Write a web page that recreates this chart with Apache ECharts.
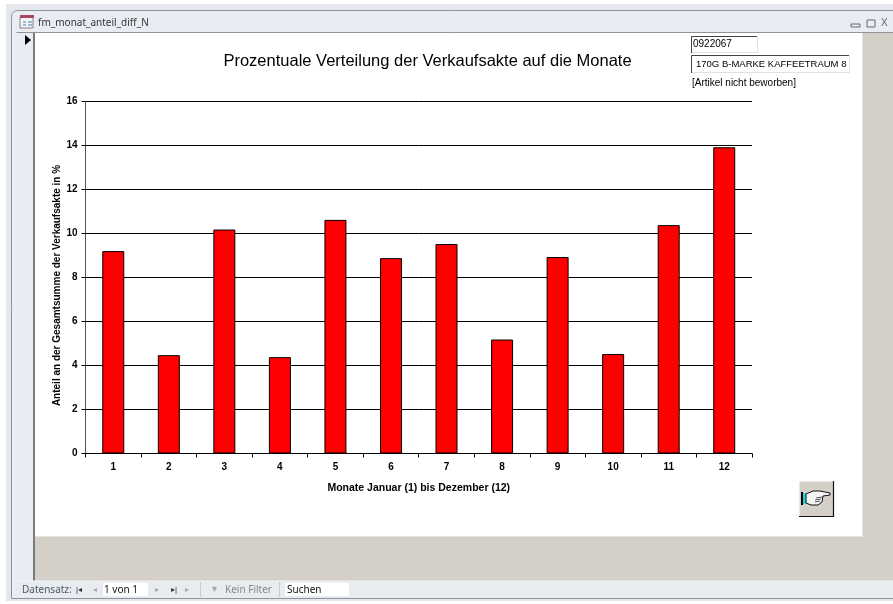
<!DOCTYPE html>
<html><head><meta charset="utf-8">
<style>html,body{margin:0;padding:0;background:#fff}#c{width:893px;height:604px}</style>
<script src="https://cdn.jsdelivr.net/npm/echarts@6/dist/echarts.min.js"></script>
</head><body><div id="c"></div>
<script>
const months = ['1','2','3','4','5','6','7','8','9','10','11','12'];
const shares = [9.2,4.47,10.18,4.38,10.62,8.88,9.52,5.18,8.93,4.52,10.38,13.92];
const chartTitle = 'Prozentuale Verteilung der Verkaufsakte auf die Monate';
const xName = 'Monate Januar (1) bis Dezember (12)';
const yName = 'Anteil an der Gesamtsumme der Verkaufsakte in %';
const winTitle = 'fm_monat_anteil_diff_N';
const code = '0922067', article = '170G B-MARKE KAFFEETRAUM 8', note = '[Artikel nicht beworben]';

const ui = '"Noto Sans","Open Sans",sans-serif', ar = '"Liberation Sans",Arial,sans-serif';
const R = (x,y,w,h,fill,z,extra) => Object.assign({type:'rect',silent:true,z:z||1,shape:{x,y,width:w,height:h},style:{fill}},extra||{});
const L = (x1,y1,x2,y2,stroke,lw,z) => ({type:'line',silent:true,z:z||3,shape:{x1,y1,x2,y2},style:{stroke,lineWidth:lw||1}});
const T = (x,y,text,font,fill,z) => ({type:'text',silent:true,z:z||5,x,y,style:{text,font,fill:fill||'#000',textVerticalAlign:'middle'}});

const chrome = [
  R(0,0,893,604,'#ffffff',-10), R(6,4,887,597,'#e4e7eb',-9),
  {type:'rect',silent:true,z:-8,shape:{x:11.5,y:10.5,width:900,height:588,r:[6,0,0,0]},style:{fill:'#e9edf3',stroke:'#8f9499',lineWidth:1}},
  L(16.5,32.5,893,32.5,'#8f9499',1,6),
  R(20,17,13,11,'#f4f4f6',6,{style:{fill:'#f4f4f6',stroke:'#8a7f8f',lineWidth:1}}),
  R(20,15,14,3,'#a8475f',6),
  L(23,22,26,22,'#4d7fb8',1,7), L(23,25,26,25,'#4d7fb8',1,7), L(28,22,32,22,'#4d7fb8',1,7), L(28,25,32,25,'#4d7fb8',1,7),
  T(38,23,winTitle,'10px '+ui,'#333',6),
  R(851,24,9,3,'#e9edf3',6,{style:{fill:'#e9edf3',stroke:'#667',lineWidth:1}}),
  R(867,20,8,7,'#e9edf3',6,{style:{fill:'#e9edf3',stroke:'#667',lineWidth:1}}),
  T(881,23,'X','10px '+ar,'#667',6),
  R(17,33,17,548,'#e9edf3',-7), L(34,33,34,581,'#555',1.5,3),
  {type:'polygon',silent:true,z:5,shape:{points:[[25,35],[31,40],[25,45]]},style:{fill:'#000'}},
  R(35,33,858,548,'#d4d0c8',-7),
  R(35,33,827,503,'#ffffff',-6),
  L(35,536.5,862.5,536.5,'#e8e5df',1,-5), L(862.5,33,862.5,537,'#e8e5df',1,-5),
  // toolbar
  R(17,581,876,17,'#e8ebf0',1), L(12,598.5,893,598.5,'#8f9499',1,3), L(17,581,893,581,'#f4f5f7',1,3),
  T(22,590,'Datensatz:','10px '+ui,'#4a5a6a',6),
  T(76,590,'|◂','8px '+ar,'#333',6), T(93,590,'◂','8px '+ar,'#aaa',6),
  R(103,583,45,13,'#ffffff',5), T(104,590,'1 von 1','10px '+ui,'#111',6),
  T(155,590,'▸','8px '+ar,'#aaa',6), T(171,590,'▸|','8px '+ar,'#333',6), T(185,590,'▸','8px '+ar,'#aaa',6),
  L(200.5,582,200.5,597,'#c8ccd2',1,6),
  T(210,590,'▼','9px '+ar,'#aaa',6), T(225,590,'Kein Filter','10px '+ui,'#888',6),
  L(279.5,582,279.5,597,'#c8ccd2',1,6),
  R(285,583,64,13,'#ffffff',5), T(287,590,'Suchen','10px '+ui,'#111',6),
  // text boxes
  {type:'rect',silent:true,z:5,shape:{x:691.5,y:36.5,width:66,height:16},style:{fill:'#fff',stroke:'#e3e1da',lineWidth:1}},
  L(691.5,36.5,757,36.5,'#444',1,6), L(691.5,36.5,691.5,53,'#444',1,6),
  T(693,44,code,'10px '+ar,'#000',6),
  {type:'rect',silent:true,z:5,shape:{x:691.5,y:55.5,width:158,height:17},style:{fill:'#fff',stroke:'#e3e1da',lineWidth:1}},
  L(691.5,55.5,849,55.5,'#444',1,6), L(691.5,55.5,691.5,73,'#444',1,6),
  T(696,64.5,article,'9.5px '+ar,'#000',6),
  T(692,83,note,'10px '+ar,'#000',6),
  // button
  {type:'rect',silent:true,z:5,shape:{x:799.5,y:481.5,width:34,height:35},style:{fill:'#d4d0c8',stroke:null}},
  L(799,516.5,834,516.5,'#111',1.2,6), L(833.5,481,833.5,517,'#111',1.2,6),
  R(801,492,2,13,'#000',6), R(803,493,3,11,'#22d8e0',6),
  {type:'polygon',silent:true,z:6,shape:{points:[[806,494],[813,491],[820,491],[830,493],[830,495],[823,496],[822,502],[818,505],[811,505],[806,503]]},style:{fill:'#f5f5f5',stroke:'#111',lineWidth:1}},
  L(816,498,822,497,'#555',1,7), L(815,500,821,499,'#555',1,7), L(815,502,820,501,'#555',1,7)
];

const chart = echarts.init(document.getElementById('c'),null,{renderer:'canvas'});
chart.setOption({
  animation:false,
  backgroundColor:'transparent',
  title:{text:chartTitle,left:422.5,top:48,textAlign:'center',textStyle:{fontFamily:ar,fontSize:16.5,fontWeight:'normal',color:'#000'}},
  grid:{left:85.5,right:141,top:101.5,bottom:150.5,containLabel:false},
  xAxis:{type:'category',data:months,
    name:xName,nameLocation:'middle',nameGap:29,nameMoveOverlap:false,
    nameTextStyle:{fontFamily:ar,fontSize:10.5,fontWeight:'bold',color:'#000'},
    axisLine:{lineStyle:{color:'#000',width:1}},
    axisTick:{show:true,alignWithLabel:false,length:4,lineStyle:{color:'#000'}},
    axisLabel:{fontFamily:ar,fontSize:10,fontWeight:'bold',color:'#000',margin:9,interval:0},
    splitLine:{show:false}},
  yAxis:{type:'value',min:0,max:16,interval:2,
    name:yName,nameLocation:'middle',nameGap:23,nameRotate:90,nameMoveOverlap:false,
    nameTextStyle:{fontFamily:ar,fontSize:10,fontWeight:'bold',color:'#000',padding:[0,16,0,0]},
    axisLine:{show:true,lineStyle:{color:'#555',width:1}},
    axisTick:{show:true,length:4,lineStyle:{color:'#000'}},
    axisLabel:{fontFamily:ar,fontSize:10,fontWeight:'bold',color:'#000',margin:8},
    splitLine:{show:true,lineStyle:{color:'#000',width:1}}},
  series:[{type:'bar',data:shares,barWidth:22,z:4,
    itemStyle:{color:'#ff0000',borderColor:'#000',borderWidth:1}}],
  graphic:chrome
});
</script></body></html>
